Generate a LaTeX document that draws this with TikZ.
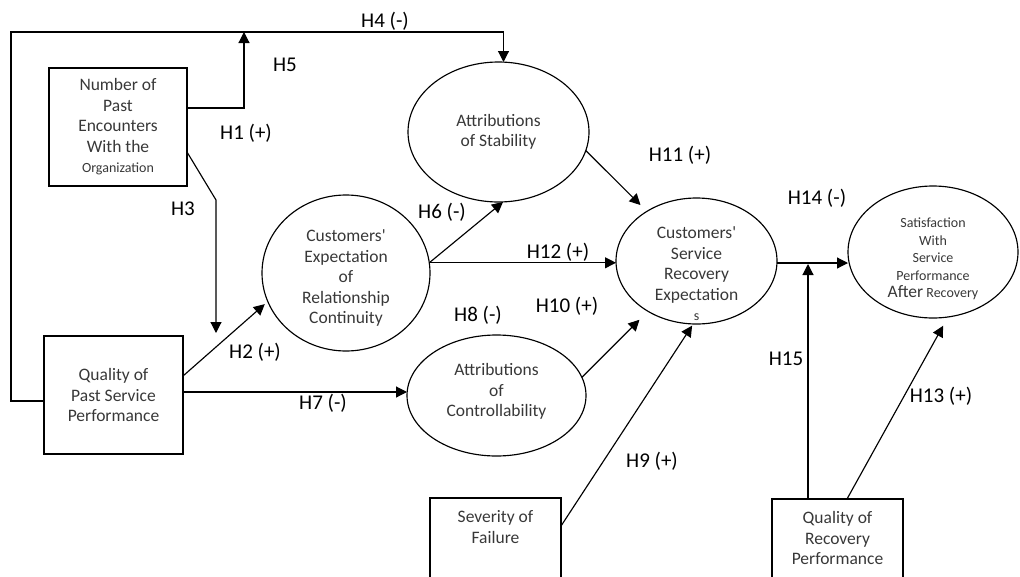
\documentclass[tikz,border=0pt]{standalone}
\usepackage{fontspec}
\setmainfont{Carlito}
\usetikzlibrary{shapes.geometric,arrows.meta,calc}

\tikzset{
  box/.style={draw, rectangle, line width=1.15pt, inner sep=0pt, outer sep=0pt},
  oval/.style={draw, ellipse, line width=1.15pt, inner sep=0pt, outer sep=0pt},
  txt/.style={text=black!78, font=\fontsize{17.5}{20.5}\selectfont, align=center, inner sep=0pt},
  hlab/.style={text=black, font=\fontsize{21}{25}\selectfont, inner sep=0pt},
  arr/.style={-{Triangle[length=11pt,width=11pt]}, line width=1.15pt},
}
\newcommand{\smalltxt}{\fontsize{14}{17.5}\selectfont}

\begin{document}
\begin{tikzpicture}[x=1pt,y=-1pt]
\useasboundingbox (0,0) rectangle (1020,576);
\clip (0,0) rectangle (1020,576);

% constructs shown as boxes
\node[box, minimum width=138pt, minimum height=118pt, txt] (num) at (118,127)
  {Number of\\Past\\Encounters\\With the\\{\smalltxt Organization}};
\node[box, minimum width=139pt, minimum height=118pt, txt] (qpast) at (113.5,395)
  {Quality of\\Past Service\\Performance};
\node[box, minimum width=131pt, minimum height=100pt, anchor=north west] (sev) at (430,498) {};
\node[txt] (sevtext) at ([yshift=-29pt]sev.north) {Severity of\\Failure};
\node[box, minimum width=131pt, minimum height=100pt, anchor=north west] (qrec) at (772,499) {};
\node[txt] (qrectext) at ([yshift=-39pt]qrec.north) {Quality of\\Recovery\\Performance};

% constructs shown as ellipses
\node[oval, minimum width=181pt, minimum height=140pt,
      label={[txt]center:Attributions\\of Stability}] (stab) at (498.5,132) {};
\node[oval, minimum width=168pt, minimum height=156pt,
      label={[txt, yshift=-5pt]center:Customers\textquotesingle\\Expectation\\of\\Relationship\\Continuity}] (rel) at (346,273) {};
\node[oval, minimum width=179pt, minimum height=121pt,
      label={[txt, yshift=4pt]center:Attributions\\of\\Controllability}] (ctrl) at (496.5,395.5) {};
\node[oval, minimum width=161pt, minimum height=126pt,
      label={[txt, yshift=-13pt]center:Customers\textquotesingle\\Service\\Recovery\\Expectation\\{\fontsize{14}{21}\selectfont s}}] (svc) at (696.5,261) {};
\node[oval, minimum width=170pt, minimum height=132pt,
      label={[txt, yshift=-7pt, font=\fontsize{14}{17.5}\selectfont]center:Satisfaction\\With\\Service\\Performance\\{\fontsize{17.5}{20}\selectfont After} Recovery}] (sat) at (933,252) {};

% routing points
\coordinate (corner) at (11,32);
\coordinate (h5tip) at (244,32);
\coordinate (h3bend) at (216,200);

% hypothesised paths
\draw[arr] ([yshift=-6pt]qpast.west) -| (corner) -| ([xshift=5pt]stab.north);
\draw[arr] ([yshift=19pt]num.east) -| (h5tip);
\draw[arr, shorten >=3pt] ([yshift=-25pt]num.east) -- (h3bend) -- (h3bend |- qpast.north);
\draw[arr, shorten >=4pt] ([yshift=19pt]qpast.east) -- (rel.200);
\draw[arr] ([yshift=3pt]qpast.east) coordinate (h7s) -- (h7s -| ctrl.west);
\draw[arr] (rel.7) -- ([xshift=4.5pt]stab.south);
\draw[arr] (rel.7) -- (rel.7 -| svc.west);
\draw[arr, shorten >=9pt] (stab.-12) -- (svc.135);
\draw[arr, shorten >=12pt] (ctrl.12) -- (svc.226);
\draw[arr, shorten >=2pt] ([yshift=22pt]sev.east) -- (svc.267);
\draw[arr] ([yshift=-2pt]svc.east) coordinate (h14s) -- (h14s -| sat.west);
\draw[arr, shorten >=1pt] ([xshift=-29.5pt]qrec.north) coordinate (h15s) -- (h15s |- h14s);
\draw[arr, shorten >=10pt] ([xshift=9.5pt]qrec.north) -- (sat.-77);

% path labels
\node[hlab] (lh4) at (385,21) {H4 (-)};
\node[hlab] (lh5) at (285,65) {H5};
\node[hlab] (lh1) at (246,133) {H1 (+)};
\node[hlab] (lh3) at (183,209) {H3};
\node[hlab] (lh6) at (442,212) {H6 (-)};
\node[hlab] (lh2) at (255,352) {H2 (+)};
\node[hlab] (lh7) at (323,403) {H7 (-)};
\node[hlab] (lh12) at (558,252) {H12 (+)};
\node[hlab] (lh11) at (680,155) {H11 (+)};
\node[hlab] (lh8) at (478,315) {H8 (-)};
\node[hlab] (lh10) at (567,306) {H10 (+)};
\node[hlab] (lh9) at (652,461) {H9 (+)};
\node[hlab] (lh14) at (817,198) {H14 (-)};
\node[hlab] (lh15) at (786,359) {H15};
\node[hlab] (lh13) at (941,396) {H13 (+)};
\end{tikzpicture}
\end{document}
